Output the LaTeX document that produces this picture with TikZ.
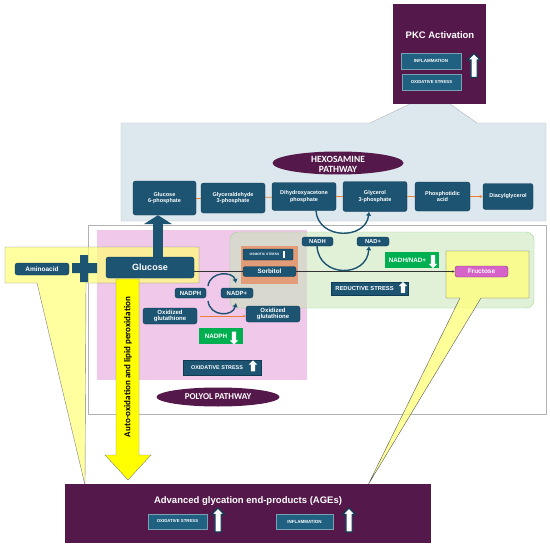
\documentclass[tikz,border=0pt]{standalone}
\usepackage{fontspec}
\setmainfont{Liberation Sans}
\newfontfamily\calib{Carlito}
\usetikzlibrary{shapes.geometric,shapes.arrows,arrows.meta,positioning}

\definecolor{boxblue}{RGB}{28,84,114}
\definecolor{boxline}{RGB}{16,58,84}
\definecolor{stressblue}{RGB}{32,96,128}
\definecolor{plum}{RGB}{85,24,74}
\definecolor{hexbg}{RGB}{221,232,238}
\definecolor{polypink}{RGB}{239,200,234}
\definecolor{redgreen}{RGB}{200,230,185}
\definecolor{redline}{RGB}{160,215,150}
\definecolor{sorbor}{RGB}{228,150,110}
\definecolor{callyel}{RGB}{255,255,120}
\definecolor{arrowyel}{RGB}{255,255,0}
\definecolor{labgreen}{RGB}{0,176,80}
\definecolor{fructpink}{RGB}{214,100,200}
\definecolor{flow}{RGB}{237,125,49}

\tikzset{
  bluebox/.style={draw=boxline, fill=boxblue, rounded corners=2.5pt, text=white, align=center,
    inner sep=0.5pt, font=\bfseries\fontsize{5.5}{6.2}\selectfont},
  stressbox/.style={draw=stressblue!60!white, fill=stressblue, text=white, inner sep=0.5pt,
    font=\bfseries\fontsize{4.5}{5}\selectfont},
  greenbox/.style={fill=labgreen, text=white, inner sep=0.5pt, font=\bfseries\fontsize{6.3}{7}\selectfont},
  bigup/.style={single arrow, draw=boxline, fill=white, line width=1.2pt, shape border rotate=90,
    single arrow head extend=3.5pt, inner sep=2.5pt, minimum height=24pt},
  whiteup/.style={single arrow, fill=white, shape border rotate=90, single arrow head extend=2pt,
    inner sep=2pt, minimum height=11pt},
  whitedown/.style={whiteup, shape border rotate=270, minimum height=13pt},
  flowline/.style={draw=flow, line width=0.8pt},
  cyclearrow/.style={draw=boxblue, line width=1.4pt, -{Latex[length=4pt,width=5.5pt]}},
  pathlbl/.style={text=white, align=center, inner sep=0pt, font=\calib\bfseries\fontsize{9.5}{10}\selectfont},
}

\begin{document}
\begin{tikzpicture}[x=1pt,y=-1pt,>=Latex]
\useasboundingbox (0,0) rectangle (550,546);

% panels
\draw[gray!60, fill=white] (88,225) rectangle (546,414);
\draw[gray!60, fill=hexbg] (121,123) -- (370,123) -- (410,104) -- (450,104) -- (477,123)
  -- (546,123) -- (546,221) -- (121,221) -- cycle;
\fill[polypink] (97,230) rectangle (307,380);
\draw[redline, fill=redgreen, fill opacity=0.55, rounded corners=8pt] (230,232) rectangle (534,308);
\fill[sorbor, opacity=0.9] (241,246) rectangle (298,284);

% callouts
\draw[gray, fill=callyel, fill opacity=0.7] (5,247) -- (199,247) -- (199,283) -- (86,283)
  -- (85,485) -- (37,283) -- (5,283) -- cycle;
\draw[gray!70!black, fill=callyel, fill opacity=0.75] (446,251) -- (529,251) -- (529,298)
  -- (481,298) -- (368,485) -- (460,298) -- (446,298) -- cycle;

% PKC
\node[fill=plum, minimum width=93, minimum height=100, inner sep=0] (pkc) at (439.5,54) {};
\node[text=white, font=\bfseries\fontsize{9.5}{10}\selectfont] (pkct) at (440,35) {PKC Activation};
\node[stressbox, minimum width=60, minimum height=16] (pkcinf) at (431,61) {INFLAMMATION};
\node[stressbox, minimum width=59, minimum height=16, font=\bfseries\fontsize{4.3}{5}\selectfont] (pkcox) at (431.5,82) {OXIDATIVE STRESS};
\node[bigup] (pkcup) at (474,67) {};

% hexosamine row
\fill[plum] (338,163) ellipse [x radius=65.5, y radius=11.5];
\node[pathlbl] (hexo) at (338,164) {HEXOSAMINE\\PATHWAY};
\node[bluebox, minimum width=63, minimum height=34] (g6p) at (164.5,198) {Glucose\\6-phosphate};
\node[bluebox, minimum width=64, minimum height=30] (g3p) at (233,198) {Glyceraldehyde\\3-phosphate};
\node[bluebox, minimum width=64, minimum height=28] (dhap) at (304,196.5) {Dihydroxyacetone\\phosphate};
\node[bluebox, minimum width=64, minimum height=30] (gl3p) at (375,196.5) {Glycerol\\3-phosphate};
\node[bluebox, minimum width=55, minimum height=29] (pa) at (442.5,196.5) {Phosphotidic\\acid};
\node[bluebox, minimum width=50, minimum height=26] (dag) at (508,196.5) {Diacylglycerol};
\draw[flowline] (g6p) -- (g3p);
\draw[flowline] (g3p) -- (dhap);
\draw[flowline] (dhap) -- (gl3p);
\draw[flowline] (gl3p) -- (pa);
\draw[flowline, -{Latex[length=3pt,width=3pt]}] (pa) -- (dag);

% glucose and aminoacid
\node[bluebox, minimum width=88, minimum height=21, font=\bfseries\fontsize{9}{10}\selectfont] (glu) at (150,267.5) {Glucose};
\node[bluebox, minimum width=54, minimum height=12, font=\bfseries\fontsize{6.5}{7}\selectfont] (amino) at (42,269) {Aminoacid};
\fill[boxblue] (72,263) rectangle (97,273) (80,255) rectangle (88,282);
\draw[boxblue, line width=10pt, -{Triangle[length=9pt,width=28pt]}] ([xshift=8]glu.north) -- ([xshift=-6.5]g6p.south);

% yellow arrow
\draw[gray, fill=arrowyel] (116,279) -- (139,279) -- (139,455) -- (151,455) -- (128,480)
  -- (105,455) -- (116,455) -- cycle;
\node[rotate=90, font=\calib\bfseries\fontsize{9}{10}\selectfont] (autox) at (128,367) {Auto-oxidation and lipid peroxidation};

% polyol side
\node[bluebox, rounded corners=1pt, minimum width=50, minimum height=11, font=\bfseries\fontsize{3.3}{4}\selectfont] (osmo) at (268,254.5) {OSMOTIC STRESS\kern7pt};
\fill[white] (283.3,250.5) rectangle (285,258);
\node[bluebox, minimum width=53, minimum height=10, font=\bfseries\fontsize{6.3}{7}\selectfont] (sorb) at (269.5,271.5) {Sorbitol};
\node[bluebox, fill=fructpink, draw=fructpink!60!black, minimum width=53, minimum height=11, font=\bfseries\fontsize{6.5}{7}\selectfont] (fruc) at (481.5,271.5) {Fructose};
\draw[black!80, line width=0.5pt] (glu.east |- sorb.west) -- (sorb.west);
\draw[black!80, line width=0.5pt, -{Latex[length=2.5pt,width=2.5pt]}] (sorb.east) -- (fruc.west);

\node[bluebox, minimum width=54, minimum height=16, font=\bfseries\fontsize{6}{6.8}\selectfont] (oxg1) at (170,316) {Oxidized\\glutathione};
\node[bluebox, minimum width=54, minimum height=16, font=\bfseries\fontsize{6}{6.8}\selectfont] (oxg2) at (273,314) {Oxidized\\glutathione};
\draw[flow, line width=0.6pt, -{Latex[length=2.5pt,width=2.5pt]}] ([xshift=3]oxg1.east) -- (oxg1.east -| oxg2.west);
\node[bluebox, minimum width=31, minimum height=10, font=\bfseries\fontsize{6}{7}\selectfont] (nadph) at (190.5,293) {NADPH};
\node[bluebox, minimum width=32, minimum height=10, font=\bfseries\fontsize{6}{7}\selectfont] (nadpp) at (237,293) {NADP+};
\draw[cyclearrow] (208,286) .. controls (210,271) and (233,271) .. (236,283);
\draw[cyclearrow] (208,301) .. controls (210,317) and (233,317) .. (236,303);
\node[greenbox, minimum width=44, minimum height=16] (nadphg) at (221,336) {NADPH\kern10pt};
\node[whitedown] (nadphdn) at (234,337) {};
\node[bluebox, rounded corners=0pt, minimum width=78, minimum height=15, font=\bfseries\fontsize{5.4}{6}\selectfont] (oxpol) at (222,367.5) {OXIDATIVE STRESS\kern10pt};
\node[whiteup] (oxpolup) at (253,367) {};
\fill[plum] (218,397) ellipse [x radius=61.5, y radius=9.5];
\node[pathlbl, font=\calib\bfseries\fontsize{9}{10}\selectfont] (polyol) at (218,397) {POLYOL PATHWAY};

% reductive side
\node[bluebox, minimum width=31, minimum height=9, font=\bfseries\fontsize{5.8}{6.5}\selectfont] (nadh) at (317.5,241.5) {NADH};
\node[bluebox, minimum width=32, minimum height=9, font=\bfseries\fontsize{5.8}{6.5}\selectfont] (nadp) at (373,241.5) {NAD+};
\draw[cyclearrow] ([xshift=12]dhap.south) .. controls (318,240) and (366,240) .. ([xshift=-6]gl3p.south);
\draw[cyclearrow] ([xshift=-0.5]nadh.south) .. controls (319,278) and (367,278) .. ([xshift=-4]nadp.south);
\node[greenbox, minimum width=54, minimum height=16] (nadr) at (412,260) {NADH/NAD+\kern9pt};
\node[whitedown] (nadrdn) at (433,260.5) {};
\node[bluebox, rounded corners=0pt, minimum width=77, minimum height=13, font=\bfseries\fontsize{5.8}{6.5}\selectfont] (redst) at (369.5,288.5) {REDUCTIVE STRESS\kern10pt};
\node[whiteup] (redup) at (403,288.5) {};

% AGEs
\node[fill=plum, minimum width=366, minimum height=59, inner sep=0] (ages) at (248,513.5) {};
\node[text=white, font=\bfseries\fontsize{9.5}{10}\selectfont] (agest) at (248,501) {Advanced glycation end-products (AGEs)};
\node[stressbox, minimum width=59, minimum height=15, font=\bfseries\fontsize{4.3}{5}\selectfont] (agesox) at (177.5,521.5) {OXIDATIVE STRESS};
\node[bigup] (agesoxup) at (218,521.5) {};
\node[stressbox, minimum width=57, minimum height=15] (agesinf) at (304.5,521.5) {INFLAMMATION};
\node[bigup] (agesinfup) at (349,521.5) {};
\end{tikzpicture}
\end{document}
